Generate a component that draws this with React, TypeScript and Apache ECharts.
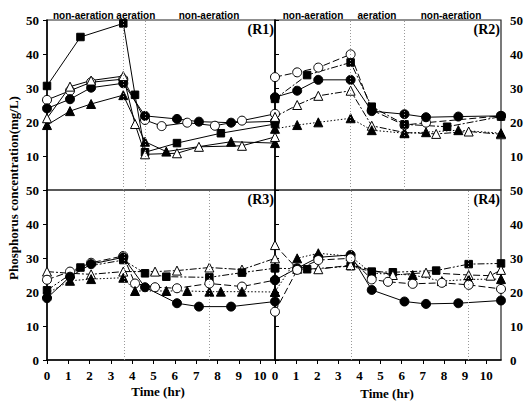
import React, { useEffect, useRef } from "react";
import * as echarts from "echarts";

// ---- data: [time (hr), phosphorus (mg/L)] ----
const r1Square = [[0, 30.6], [1.57, 45], [3.58, 49], [4.13, 28], [4.6, 11.1], [6.1, 13.8], [8.16, 16.7], [10.7, 19.4]];
const r1OpenCircle = [[0, 26.5], [1.08, 29.2], [2.07, 31.7], [3.58, 32.6], [4.6, 20.6], [5.38, 18.8], [6.58, 19.8], [7.88, 18.9], [9.15, 20.4], [10.7, 22.4]];
const r1Circle = [[0, 24], [1.08, 26.7], [2.07, 30.1], [3.58, 31.4], [4.6, 21.8], [6.1, 20.9], [7.13, 20.1], [8.64, 19.8], [10.7, 20.2]];
const r1Triangle = [[0, 19.1], [1.08, 23.2], [2.07, 25.3], [3.58, 27.9], [4.6, 14.2], [5.6, 11.3], [8.64, 14.2], [10.7, 13.8]];
const r1OpenTriangle = [[0, 21.1], [1.08, 30.4], [2.07, 32.2], [3.58, 33.5], [4.13, 19.4], [4.6, 10.5], [6.1, 10.8], [7.13, 12.7], [9.15, 13], [10.7, 15.6]];

const r2OpenCircle = [[0, 33.2], [1.05, 34.6], [2.05, 36], [3.58, 39.9], [4.58, 23.5], [6.13, 19.1], [7.15, 19.8], [10.7, 21.8]];
const r2Square = [[0, 26.8], [1.52, 33.8], [3.58, 37.5], [4.58, 24.5], [6.13, 19.3], [8.15, 18.6], [10.7, 21.6]];
const r2Circle = [[0, 27.3], [1.05, 29.2], [2.05, 32.4], [3.58, 32.4], [4.58, 23.2], [6.13, 22.3], [7.15, 21.4], [8.68, 21.6], [10.7, 21.8]];
const r2OpenTriangle = [[0, 21.5], [1.05, 25], [2.05, 27.7], [3.58, 29.2], [4.58, 18.9], [6.13, 16.9], [7.63, 16.5], [9.17, 17.2], [10.7, 16.4]];
const r2Triangle = [[0, 18], [1.05, 19.1], [2.05, 19.9], [3.58, 21.1], [4.58, 17.6], [6.13, 16.7], [7.15, 17], [8.68, 17.6], [10.7, 16.7]];

const r3OpenTriangle = [[0, 26], [1.08, 25.5], [2.07, 25.2], [3.58, 26], [5.07, 26], [6.1, 26.3], [7.62, 27.2], [9.15, 26.6], [10.7, 29.9]];
const r3Square = [[0, 20.5], [1.57, 27.2], [3.58, 29.4], [4.6, 25.5], [5.6, 24.5], [7.62, 24.3], [9.15, 25.7], [10.7, 27]];
const r3OpenCircle = [[0, 23.6], [1.08, 26], [2.07, 28.6], [3.58, 30.6], [4.13, 22.5], [5.07, 21.4], [6.1, 21.1], [7.62, 22.5], [9.15, 21.6], [10.7, 23.5]];
const r3Circle = [[0, 18.2], [1.08, 24.5], [2.07, 28.2], [3.58, 30.2], [4.6, 21.4], [6.1, 16.7], [7.13, 15.7], [8.64, 15.7], [10.7, 17.2]];
const r3Triangle = [[0, 19.6], [1.08, 23.3], [2.07, 23.8], [3.58, 24.2], [4.13, 20.3], [5.6, 20.3], [6.58, 20.3], [7.62, 20.1], [8.16, 20.1], [9.15, 20.1], [10.7, 20]];

const r4Circle = [[0, 23.5], [1.05, 27], [2.05, 30.2], [3.58, 30.9], [4.58, 20.6], [6.13, 17.2], [7.15, 16.5], [8.68, 16.7], [10.7, 17.5]];
const r4Square = [[0, 27], [1.52, 26.7], [3.58, 27.6], [4.58, 26], [5.58, 25.8], [7.63, 26.3], [9.17, 28.2], [10.7, 28.4]];
const r4OpenTriangle = [[0, 33.8], [1.05, 26.8], [2.05, 26.7], [3.58, 27.9], [5.58, 25], [7.15, 25.7], [9.17, 25], [10.2, 24.8], [10.7, 26.5]];
const r4Triangle = [[0, 20.1], [1.05, 29.9], [2.05, 31.4], [3.58, 30.5], [4.58, 25.5], [6.52, 25], [7.9, 23.2], [9.17, 23.7], [10.7, 23.8]];
const r4OpenCircle = [[0, 14.2], [1.05, 26.5], [2.05, 29.4], [3.58, 29.9], [4.58, 23.7], [5.35, 23], [6.52, 22.4], [7.9, 22.7], [9.17, 22.1], [10.7, 20.9]];

const phaseLines = [[3.58, 4.63], [3.58, 6.13], [3.62, 7.62], [3.62, 9.17]];
const xTicks = [0, 1, 2, 3, 4, 5, 6, 7, 8, 9, 10];
const panelNames = ["(R1)", "(R2)", "(R3)", "(R4)"];

const SOLID = "solid";
const LONG = [7, 3];
const DASHDOT = [7, 2, 2, 2];
const DASHDOTDOT = [7, 2, 2, 2, 2, 2];
const DOT = [1.5, 2];

const SERIF = "Liberation Serif";
const SANS = "Liberation Sans";

function mk(data: number[][], symbol: string, filled: boolean, dash: any, idx: number, size = 8) {
  return {
    type: "line",
    xAxisIndex: idx,
    yAxisIndex: idx,
    data,
    symbol,
    symbolSize: symbol === "triangle" ? size + 1 : symbol === "rect" ? size - 0.5 : size,
    showAllSymbol: true,
    itemStyle: { color: filled ? "#000" : "#fff", borderColor: "#000", borderWidth: 1 },
    lineStyle: { color: "#000", width: 1, type: dash },
    emphasis: { disabled: true },
  };
}

export default function App() {
  const ref = useRef<HTMLDivElement>(null);
  useEffect(() => {
    if (!ref.current) return;
    const chart = echarts.init(ref.current, undefined, { renderer: "svg" });
    const grids = [
      { left: 47, top: 20, width: 228, height: 170 },
      { left: 275, top: 20, width: 226, height: 170 },
      { left: 47, top: 190, width: 228, height: 170 },
      { left: 275, top: 190, width: 226, height: 170 },
    ].map((g) => ({ ...g, show: true, borderColor: "#222", borderWidth: 1.2, backgroundColor: "transparent" }));

    const xAxes = [0, 1, 2, 3].map((i) => {
      const bottom = i >= 2;
      return {
        type: "value",
        gridIndex: i,
        min: 0,
        max: 10.7,
        interval: 1,
        splitLine: { show: false },
        axisLine: { show: bottom, onZero: false, lineStyle: { color: "#000", width: 1.5 } },
        axisTick: { show: bottom, length: 4, customValues: xTicks, lineStyle: { color: "#000" } },
        axisLabel: {
          show: bottom,
          customValues: xTicks,
          margin: 9,
          color: "#000",
          fontFamily: SERIF,
          fontWeight: "bold",
          fontSize: 13,
          formatter: (v: number) => (Number.isInteger(v) ? String(v) : ""),
        },
      };
    });
    const yAxes = [0, 1, 2, 3].map((i) => ({
      type: "value",
      gridIndex: i,
      position: i % 2 === 0 ? "left" : "right",
      min: 0,
      max: 50,
      interval: 10,
      splitLine: { show: false },
      axisLine: { show: true, lineStyle: { color: "#000", width: 1.5 } },
      axisTick: { show: true, length: 4, lineStyle: { color: "#000" } },
      axisLabel: {
        margin: i % 2 === 0 ? 8 : 9,
        color: "#000",
        fontFamily: SERIF,
        fontWeight: "bold",
        fontSize: 13,
        showMinLabel: i >= 2,
      },
    }));

    const series: any[] = [
      mk(r1Square, "rect", true, SOLID, 0),
      mk(r1OpenCircle, "circle", false, SOLID, 0, 9),
      mk(r1Circle, "circle", true, SOLID, 0, 9),
      mk(r1Triangle, "triangle", true, SOLID, 0),
      mk(r1OpenTriangle, "triangle", false, SOLID, 0),

      mk(r2OpenCircle, "circle", false, LONG, 1, 9),
      mk(r2Square, "rect", true, DASHDOT, 1),
      mk(r2Circle, "circle", true, SOLID, 1, 9),
      mk(r2OpenTriangle, "triangle", false, DASHDOT, 1),
      mk(r2Triangle, "triangle", true, DOT, 1),

      mk(r3OpenTriangle, "triangle", false, DASHDOT, 2),
      mk(r3Square, "rect", true, DASHDOTDOT, 2),
      mk(r3OpenCircle, "circle", false, LONG, 2, 9),
      mk(r3Circle, "circle", true, SOLID, 2, 9),
      mk(r3Triangle, "triangle", true, DOT, 2),

      mk(r4Circle, "circle", true, SOLID, 3, 9),
      mk(r4Square, "rect", true, DASHDOTDOT, 3),
      mk(r4OpenTriangle, "triangle", false, LONG, 3),
      mk(r4Triangle, "triangle", true, DOT, 3),
      mk(r4OpenCircle, "circle", false, LONG, 3, 9),
    ];

    // phase boundaries (dotted verticals)
    phaseLines.forEach((pl, i) => {
      series.push({
        type: "line",
        xAxisIndex: i,
        yAxisIndex: i,
        data: [],
        silent: true,
        markLine: {
          silent: true,
          symbol: "none",
          label: { show: false },
          lineStyle: { type: [1, 2], color: "#999", width: 1 },
          data: pl.map((v) => ({ xAxis: v })),
        },
      });
    });

    const titleStyle = (text: string, x: number, y: number, size: number, font: string, align = "center") => ({
      type: "text",
      x,
      y,
      style: {
        text,
        fill: "#000",
        font: `bold ${size}px "${font}"`,
        textAlign: align,
        textVerticalAlign: "middle",
      },
    });

    const graphics: any[] = [
      titleStyle("non-aeration aeration", 53, 15, 10, SANS, "left"),
      titleStyle("non-aeration", 209, 15, 10, SANS),
      titleStyle("non-aeration", 313, 15, 10, SANS),
      titleStyle("aeration", 377, 15, 10, SANS),
      titleStyle("non-aeration", 451, 15, 10, SANS),
      titleStyle(panelNames[0], 274, 29, 14, SERIF, "right"),
      titleStyle(panelNames[1], 500, 29, 14, SERIF, "right"),
      titleStyle(panelNames[2], 274, 199, 14, SERIF, "right"),
      titleStyle(panelNames[3], 500, 199, 14, SERIF, "right"),
      titleStyle("Time (hr)", 158, 391, 13, SERIF),
      titleStyle("Time (hr)", 387, 393, 13, SERIF),
      {
        type: "text",
        x: 13,
        y: 188,
        rotation: Math.PI / 2,
        style: {
          text: "Phosphorus concentration(mg/L)",
          fill: "#000",
          font: `bold 13px "${SERIF}"`,
          textAlign: "center",
          textVerticalAlign: "middle",
        },
      },
    ];

    chart.setOption({
      animation: false,
      backgroundColor: "#fff",
      grid: grids,
      xAxis: xAxes,
      yAxis: yAxes,
      series,
      graphic: graphics,
    });
    return () => chart.dispose();
  }, []);
  return <div ref={ref} style={{ position: "absolute", left: 0, top: 0, width: 529, height: 402 }} />;
}
